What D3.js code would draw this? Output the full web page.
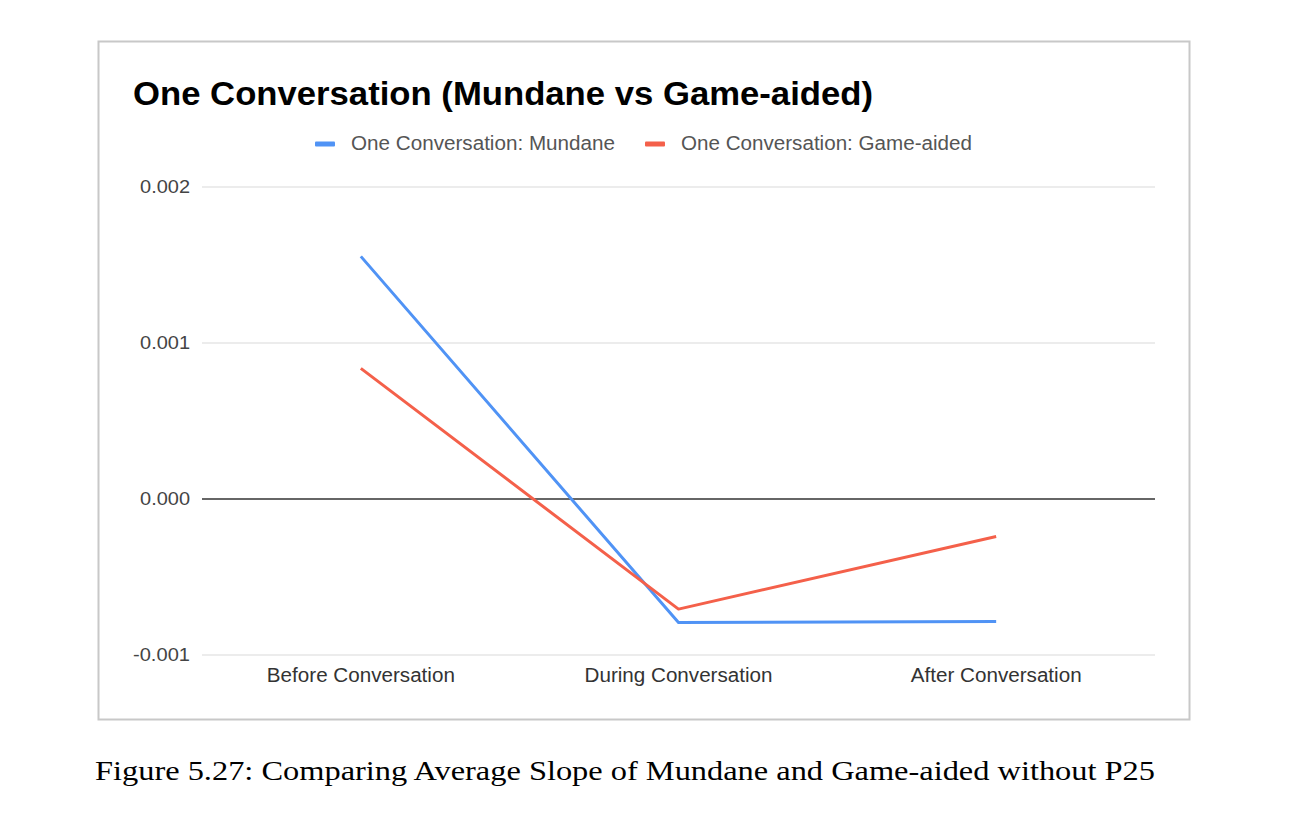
<!DOCTYPE html>
<html>
<head>
<meta charset="utf-8">
<script src="https://cdn.jsdelivr.net/npm/d3@7"></script>
<style>
  body { margin: 0; background: #fff; }
  svg { display: block; }
</style>
</head>
<body>
<div id="chart"></div>
<script>
const categories = ["Before Conversation", "During Conversation", "After Conversation"];
const mundane = [0.001552, -0.000795, -0.000789];
const gameAided = [0.000834, -0.000709, -0.000244];
const yTicks = [-0.001, 0, 0.001, 0.002];
const seriesNames = ["One Conversation: Mundane", "One Conversation: Game-aided"];
const seriesColors = ["#5093f5", "#f4604a"];

const W = 1300, H = 834;
const plot = { left: 202, right: 1155, top: 186.5, bottom: 654.5 };
const sans = "'Liberation Sans', Arial, sans-serif";

const svg = d3.select("#chart")
    .append("svg")
    .attr("width", W)
    .attr("height", H);

// chart frame
svg.append("rect")
    .attr("x", 98.5)
    .attr("y", 41.5)
    .attr("width", 1091)
    .attr("height", 678)
    .attr("fill", "#fff")
    .attr("stroke", "#c8c8c8")
    .attr("stroke-width", 2);

const xScale = d3.scaleBand()
    .domain(categories)
    .range([plot.left, plot.right]);

const yScale = d3.scaleLinear()
    .domain([-0.001, 0.002])
    .range([plot.bottom, plot.top]);

// gridlines + tick labels
const fmt = d3.format(".3f");
const yAxis = d3.axisLeft(yScale)
    .tickValues(yTicks)
    .tickSize(-(plot.right - plot.left))
    .tickFormat(d => fmt(d).replace("\u2212", "-"));

const gy = svg.append("g")
    .attr("transform", `translate(${plot.left},0)`)
    .call(yAxis);
gy.select(".domain").remove();
gy.selectAll(".tick line")
    .attr("stroke", d => d === 0 ? "#333" : "#d9d9d9")
    .attr("stroke-width", d => d === 0 ? 1.3 : 1);
gy.selectAll(".tick text")
    .attr("x", -12)
    .attr("dy", "0.35em")
    .attr("fill", "#444")
    .style("font-family", sans)
    .style("font-size", "18.5px")
    .attr("textLength", d => d < 0 ? 57 : 50)
    .attr("lengthAdjust", "spacingAndGlyphs");

// x axis labels
const xAxis = d3.axisBottom(xScale).tickSize(0);
const gx = svg.append("g")
    .attr("transform", `translate(0,${plot.bottom})`)
    .call(xAxis);
gx.select(".domain").remove();
gx.selectAll(".tick text")
    .attr("dy", 0)
    .attr("y", 27)
    .attr("fill", "#333")
    .style("font-family", sans)
    .style("font-size", "20px")
    .attr("textLength", (d, i) => [188, 188, 171][i])
    .attr("lengthAdjust", "spacingAndGlyphs");

// lines
const line = d3.line()
    .x((d, i) => xScale(categories[i]) + xScale.bandwidth() / 2)
    .y(d => yScale(d));

[mundane, gameAided].forEach((vals, i) => {
    svg.append("path")
        .datum(vals)
        .attr("fill", "none")
        .attr("stroke", seriesColors[i])
        .attr("stroke-width", 3)
        .attr("stroke-linejoin", "round")
        .attr("d", line);
});

// title
svg.append("text")
    .attr("x", 133)
    .attr("y", 105)
    .attr("fill", "#000")
    .style("font-family", sans)
    .style("font-weight", "bold")
    .style("font-size", "34px")
    .attr("textLength", 740)
    .attr("lengthAdjust", "spacingAndGlyphs")
    .text("One Conversation (Mundane vs Game-aided)");

// legend
const legendX = [315, 645];
const legendW = [264, 291];
seriesNames.forEach((name, i) => {
    svg.append("rect")
        .attr("x", legendX[i])
        .attr("y", 141.5)
        .attr("width", 20)
        .attr("height", 5)
        .attr("rx", 1)
        .attr("fill", seriesColors[i]);
    svg.append("text")
        .attr("x", legendX[i] + 36)
        .attr("y", 150)
        .attr("fill", "#555")
        .style("font-family", sans)
        .style("font-size", "19.5px")
        .attr("textLength", legendW[i])
        .attr("lengthAdjust", "spacingAndGlyphs")
        .text(name);
});

// caption
svg.append("text")
    .attr("x", 95)
    .attr("y", 780)
    .attr("fill", "#000")
    .style("font-family", "'Liberation Serif', 'Times New Roman', serif")
    .style("font-size", "28px")
    .attr("textLength", 1060)
    .attr("lengthAdjust", "spacingAndGlyphs")
    .text("Figure 5.27: Comparing Average Slope of Mundane and Game-aided without P25");
</script>
</body>
</html>
